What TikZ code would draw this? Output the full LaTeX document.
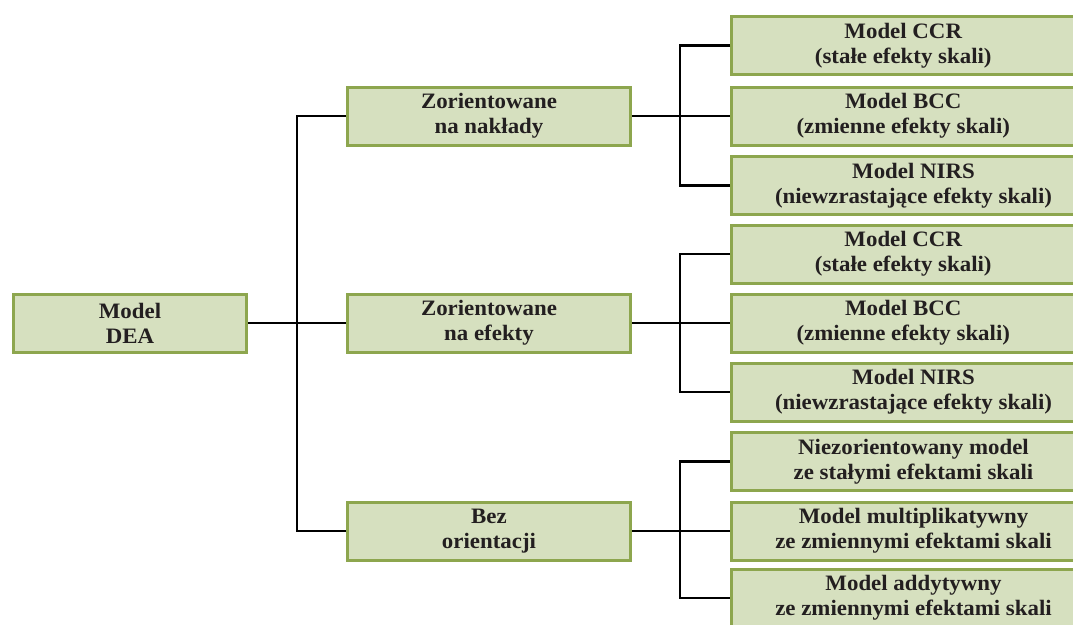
\documentclass[tikz,border=0pt]{standalone}
\usepackage{fontspec}
\setmainfont[FakeStretch=1.04]{Liberation Serif}
\definecolor{boxfill}{HTML}{D6E0BF}
\definecolor{boxdraw}{HTML}{8DA64E}
\definecolor{txt}{HTML}{231F20}
\begin{document}
\begin{tikzpicture}[x=1pt,y=-1pt,
  box/.style={draw=boxdraw,fill=boxfill,line width=3pt,inner sep=0pt,align=center,
    text=txt,font=\fontsize{22}{25}\selectfont\bfseries},
  lbox/.style={box,minimum width=233pt,minimum height=58pt},
  mbox/.style={box,minimum width=283pt,minimum height=58pt},
  rbox/.style={box,minimum width=343.5pt,minimum height=58pt},
  rboxw/.style={box,minimum width=364pt,minimum height=58pt},
  conn/.style={draw=black,line width=2.2pt}]
\useasboundingbox (0,0) rectangle (1073,624);
\node[lbox] (dea) at (130,323) {Model\\DEA};
\node[mbox] (m1) at (489,116) {Zorientowane\\na nakłady};
\node[mbox] (m2) at (489,323) {Zorientowane\\na efekty};
\node[mbox] (m3) at (489,531) {Bez\\orientacji};
% group 1
\node[rbox]  (a1) at (903.25,45.5) {Model CCR\\(stałe efekty skali)};
\node[rbox]  (a2) at (903.25,116) {Model BCC\\(zmienne efekty skali)};
\node[rboxw] (a3) at (913.5,185.5) {Model NIRS\\(niewzrastające efekty skali)};
% group 2
\node[rbox]  (b1) at (903.25,254) {Model CCR\\(stałe efekty skali)};
\node[rbox]  (b2) at (903.25,323) {Model BCC\\(zmienne efekty skali)};
\node[rboxw] (b3) at (913.5,392) {Model NIRS\\(niewzrastające efekty skali)};
% group 3
\node[rboxw] (c1) at (913.5,461.5) {Niezorientowany model\\ze stałymi efektami skali};
\node[rboxw] (c2) at (913.5,531) {Model multiplikatywny\\ze zmiennymi efektami skali};
\node[rboxw] (c3) at (913.5,598) {Model addytywny\\ze zmiennymi efektami skali};
% connectors
\coordinate (t0) at (297,323);
\coordinate (t1) at (680,116);
\coordinate (t2) at (680,323);
\coordinate (t3) at (680,531);
\draw[conn] (dea.east) -- (m2.west);
\draw[conn] (m1.west) -| (t0) |- (m3.west);
\draw[conn] (m1.east) -- (a2.west);
\draw[conn] (a1.west) -| (t1) |- (a3.west);
\draw[conn] (m2.east) -- (b2.west);
\draw[conn] (b1.west) -| (t2) |- (b3.west);
\draw[conn] (m3.east) -- (c2.west);
\draw[conn] (c1.west) -| (t3) |- (c3.west);
\end{tikzpicture}
\end{document}
